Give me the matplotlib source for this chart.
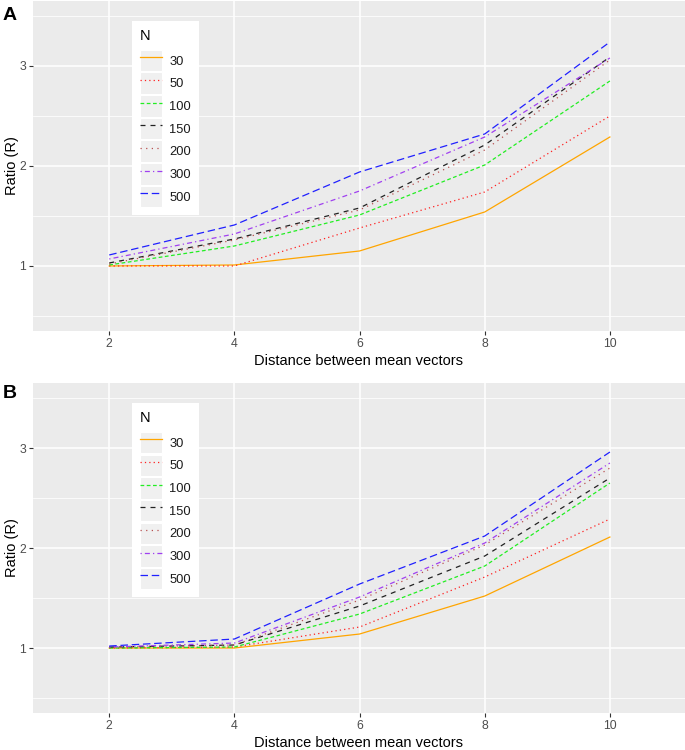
import matplotlib
matplotlib.use('Agg')
import matplotlib.pyplot as plt
from matplotlib.patches import Patch
from matplotlib.lines import Line2D
from matplotlib.legend_handler import HandlerTuple

plt.rcParams['font.family'] = ['Liberation Sans', 'DejaVu Sans']

distance = [2, 4, 6, 8, 10]
sizes = ['30', '50', '100', '150', '200', '300', '500']

# panel A
a_30 = [1.00, 1.01, 1.15, 1.54, 2.29]
a_50 = [1.00, 1.00, 1.38, 1.74, 2.50]
a_100 = [1.01, 1.20, 1.51, 2.01, 2.85]
a_150 = [1.03, 1.27, 1.58, 2.21, 3.09]
a_200 = [1.02, 1.26, 1.56, 2.16, 3.06]
a_300 = [1.07, 1.32, 1.75, 2.29, 3.08]
a_500 = [1.11, 1.41, 1.94, 2.32, 3.24]

# panel B
b_30 = [1.00, 1.00, 1.14, 1.52, 2.11]
b_50 = [1.00, 1.01, 1.21, 1.71, 2.29]
b_100 = [1.00, 1.01, 1.34, 1.82, 2.65]
b_150 = [1.01, 1.03, 1.42, 1.92, 2.70]
b_200 = [1.01, 1.03, 1.48, 2.03, 2.80]
b_300 = [1.01, 1.05, 1.51, 2.05, 2.85]
b_500 = [1.02, 1.09, 1.64, 2.12, 2.96]

colors = ['#FFA500', '#FF2020', '#22EE22', '#222222', '#B85050', '#A040F0', '#2020FF']
styles = ['-', (0, (1, 2.5)), (0, (3, 2)), (0, (4, 4)), (0, (1, 3.5)), (0, (1, 2.5, 4, 2.5)), (0, (6, 3))]

seriesA = [a_30, a_50, a_100, a_150, a_200, a_300, a_500]
seriesB = [b_30, b_50, b_100, b_150, b_200, b_300, b_500]


def drawPanel(ax, series):
    ax.set_facecolor('#EBEBEB')
    for s in ax.spines.values():
        s.set_visible(False)
    ax.set_xticks([2, 4, 6, 8, 10])
    ax.set_yticks([1, 2, 3])
    ax.set_yticks([0.5, 1.5, 2.5, 3.5], minor=True)
    ax.grid(which='major', color='white', lw=1.1)
    ax.grid(which='minor', axis='y', color='white', lw=0.55)
    ax.set_axisbelow(True)
    ax.tick_params(which='major', length=3, width=0.8, color='#333333',
                   labelcolor='#4D4D4D', labelsize=8.8, pad=2)
    ax.tick_params(which='minor', length=0)
    ax.set_xlim(0.78, 11.2)
    ax.set_ylim(0.35, 3.65)

    handles = []
    for vals, c, ls, lab in zip(series, colors, styles, sizes):
        ax.plot(distance, vals, color=c, ls=ls, lw=0.9, label=lab)
        key = Patch(facecolor='#F0F0F0', edgecolor='white', lw=0.8)
        handles.append((key, Line2D([], [], color=c, ls=ls, lw=0.9)))

    leg = ax.legend(handles, sizes, handler_map={tuple: HandlerTuple(ndivide=1)},
                    title='N', loc='upper left', bbox_to_anchor=(0.152, 0.939),
                    borderaxespad=0, fontsize=9.3, title_fontsize=10.5,
                    handlelength=1.7, handleheight=2.2, labelspacing=0.08,
                    handletextpad=0.6, borderpad=0.6, fancybox=False,
                    framealpha=1, edgecolor='white', alignment='left')
    leg.get_frame().set_linewidth(0)
    leg._legend_box.sep = 5
    for t in leg.get_texts():
        t.set_color('#1A1A1A')

    ax.set_xlabel('Distance between mean vectors', fontsize=10.5, labelpad=3)
    ax.set_ylabel('Ratio (R)', fontsize=10.5, labelpad=0)


fig = plt.figure(figsize=(6.85, 7.5), dpi=100)
axA = fig.add_axes([0.048, 0.5587, 0.952, 0.44])
axB = fig.add_axes([0.048, 0.0493, 0.952, 0.44])

drawPanel(axA, seriesA)
drawPanel(axB, seriesB)

fig.text(0.004, 0.98, 'A', fontsize=14, fontweight='bold', va='center', ha='left')
fig.text(0.004, 0.476, 'B', fontsize=14, fontweight='bold', va='center', ha='left')

fig.savefig('out.png', dpi=100, facecolor='white')
